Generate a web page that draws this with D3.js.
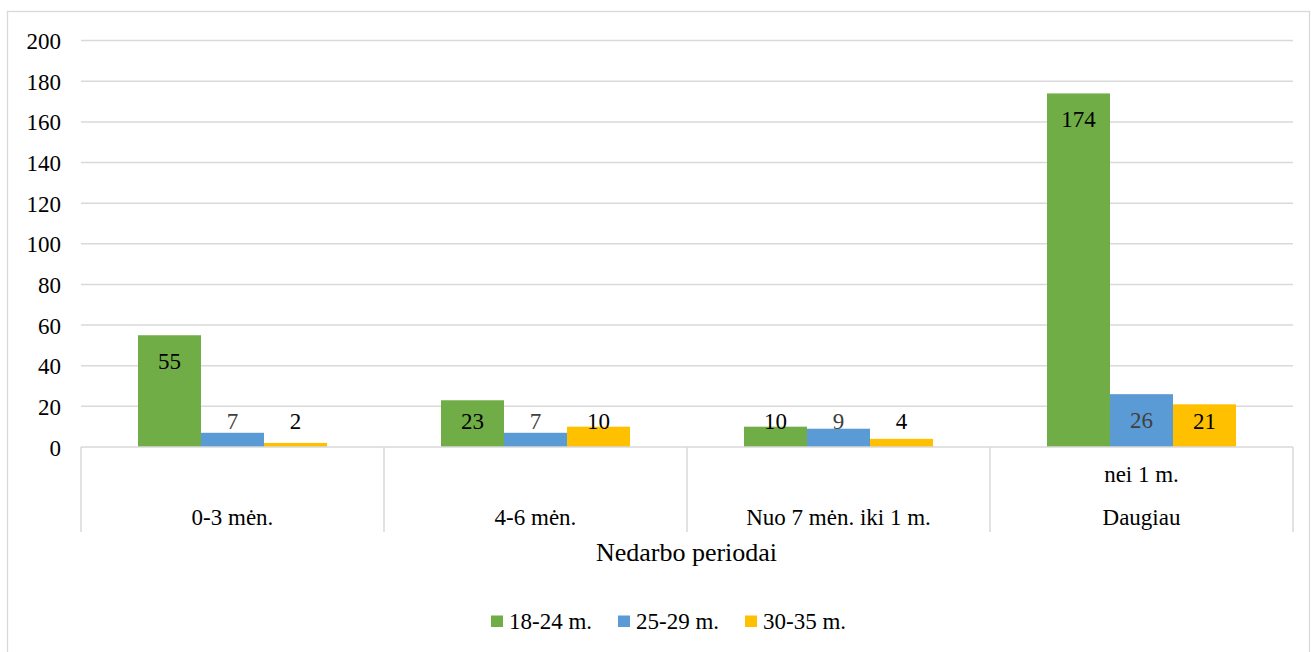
<!DOCTYPE html>
<html>
<head>
<meta charset="utf-8">
<script src="https://cdn.jsdelivr.net/npm/d3@7"></script>
<style>
  html, body { margin: 0; padding: 0; background: #fff; }
  svg { display: block; }
  svg text { font-family: "Times New Roman", "Liberation Serif", "Tinos", "DejaVu Serif", serif; }
</style>
</head>
<body>
<svg id="chart" width="1311" height="652"></svg>
<script>
// Unemployment periods by age group
const categories = ["0-3 mėn.", "4-6 mėn.", "Nuo 7 mėn. iki 1 m.", "Daugiau nei 1 m."];
const categoryLines = [["0-3 mėn."], ["4-6 mėn."], ["Nuo 7 mėn. iki 1 m."], ["nei 1 m.", "Daugiau"]];
const seriesNames = ["18-24 m.", "25-29 m.", "30-35 m."];
const values1824 = [55, 23, 10, 174];
const values2529 = [7, 7, 9, 26];
const values3035 = [2, 10, 4, 21];
const yTicks = [0, 20, 40, 60, 80, 100, 120, 140, 160, 180, 200];
const axisTitle = "Nedarbo periodai";

const seriesValues = [values1824, values2529, values3035];
const colors = ["#70AD47", "#5B9BD5", "#FFC000"];
const labelColors = ["#000", "#404040", "#000"];

const svg = d3.select("#chart");
const plotLeft = 81, plotRight = 1293, plotTop = 40.6, plotBottom = 447;
const fontSize = 23;
const serif = '"Times New Roman", "Liberation Serif", "Tinos", "DejaVu Serif", serif';

// Outer frame
svg.append("rect")
  .attr("x", 7.5).attr("y", 11.5)
  .attr("width", 1302).attr("height", 700)
  .attr("fill", "none").attr("stroke", "#d9d9d9").attr("stroke-width", 1.3);

const x = d3.scaleBand().domain(categories).range([plotLeft, plotRight]).padding(0);
const groupWidth = 189;
const xInner = d3.scaleBand().domain(seriesNames)
  .range([0, groupWidth]).padding(0);
const y = d3.scaleLinear().domain([0, 200]).range([plotBottom, plotTop]);

// Gridlines
svg.append("g")
  .selectAll("line").data(yTicks.filter(t => t > 0)).join("line")
  .attr("x1", plotLeft).attr("x2", plotRight)
  .attr("y1", d => y(d)).attr("y2", d => y(d))
  .attr("stroke", "#d9d9d9").attr("stroke-width", 1.5);

// Y axis labels
const yAxis = d3.axisLeft(y).tickValues(yTicks).tickSize(0).tickPadding(0);
const yG = svg.append("g").attr("transform", `translate(61,0)`).call(yAxis)
  .attr("font-family", serif).attr("font-size", fontSize);
yG.select(".domain").remove();
yG.selectAll("text")
  .attr("font-family", serif)
  .attr("font-size", fontSize).attr("fill", "#000").attr("dy", "0.35em");

// Bars
const groups = svg.append("g").selectAll("g").data(categories).join("g")
  .attr("transform", d => `translate(${x(d) + (x.bandwidth() - groupWidth) / 2},0)`);

groups.selectAll("rect")
  .data((c, i) => seriesNames.map((s, k) => ({ s, k, v: seriesValues[k][i] })))
  .join("rect")
  .attr("x", d => xInner(d.s))
  .attr("width", xInner.bandwidth())
  .attr("y", d => y(d.v))
  .attr("height", d => y(0) - y(d.v))
  .attr("fill", d => colors[d.k]);

// Data labels: inside the bar top, lifted above short bars
groups.selectAll("text")
  .data((c, i) => seriesNames.map((s, k) => ({ s, k, v: seriesValues[k][i] })))
  .join("text")
  .attr("x", d => xInner(d.s) + xInner.bandwidth() / 2)
  .attr("y", d => Math.min(y(d.v) + 34, y(0) - 18))
  .attr("text-anchor", "middle")
  .attr("font-family", serif)
  .attr("font-size", fontSize)
  .attr("fill", d => labelColors[d.k])
  .text(d => d.v);

// X axis line and category separators
svg.append("line")
  .attr("x1", plotLeft).attr("x2", plotRight).attr("y1", plotBottom).attr("y2", plotBottom)
  .attr("stroke", "#d9d9d9").attr("stroke-width", 1.5);
const seps = categories.map(c => x(c)).concat([plotRight]);
svg.append("g").selectAll("line").data(seps).join("line")
  .attr("x1", d => d).attr("x2", d => d)
  .attr("y1", plotBottom).attr("y2", 532)
  .attr("stroke", "#d9d9d9").attr("stroke-width", 1.5);

// Category labels
const catG = svg.append("g").selectAll("text").data(categories).join("text")
  .attr("x", d => x(d) + x.bandwidth() / 2)
  .attr("text-anchor", "middle")
  .attr("font-family", serif)
  .attr("font-size", fontSize)
  .attr("fill", "#000");
catG.each(function (d, i) {
  const lines = categoryLines[i];
  const sel = d3.select(this);
  lines.forEach((ln, j) => {
    sel.append("tspan")
      .attr("x", x(d) + x.bandwidth() / 2)
      .attr("y", 525 - (lines.length - 1 - j) * 43.5)
      .text(ln);
  });
});

// Axis title
svg.append("text")
  .attr("x", 686.5).attr("y", 561)
  .attr("text-anchor", "middle")
  .attr("font-family", serif)
  .attr("font-size", 26).attr("fill", "#000")
  .text(axisTitle);

// Legend
const legendX = [491, 618, 745];
const legend = svg.append("g").selectAll("g").data(seriesNames).join("g")
  .attr("transform", (d, i) => `translate(${legendX[i]},0)`);
legend.append("rect")
  .attr("x", 0).attr("y", 615.5).attr("width", 12).attr("height", 11.5)
  .attr("fill", (d, i) => colors[i]);
legend.append("text")
  .attr("x", 18).attr("y", 629)
  .attr("font-family", serif)
  .attr("font-size", fontSize).attr("fill", "#000")
  .text(d => d);
</script>
</body>
</html>
